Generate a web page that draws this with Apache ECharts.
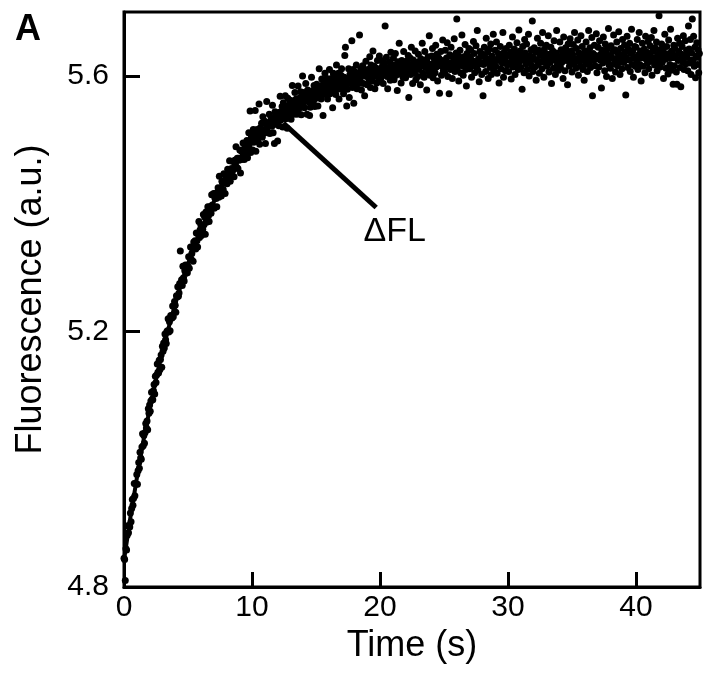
<!DOCTYPE html>
<html>
<head>
<meta charset="utf-8">
<script src="https://cdn.jsdelivr.net/npm/echarts@6/dist/echarts.min.js"></script>
<style>
  html, body { margin: 0; padding: 0; background: #fff; }
  #chart { width: 714px; height: 677px; }
</style>
</head>
<body>
<div id="chart"></div>
<script>
// sampling interval of the trace (s)
var timeStep = 0.05;

// fluorescence readings, 5 s per block
var fl_0_5 = [4.845, 4.843, 4.810, 4.860, 4.858, 4.881, 4.896, 4.885, 4.896, 4.894,
  4.916, 4.902, 4.923, 4.937, 4.928, 4.939, 4.962, 4.943, 4.962, 4.961,
  4.976, 4.961, 4.982, 4.995, 4.986, 5.011, 5.002, 5.000, 5.019, 5.040,
  5.021, 5.037, 5.025, 5.042, 5.056, 5.049, 5.060, 5.046, 5.079, 5.072,
  5.085, 5.075, 5.091, 5.105, 5.094, 5.093, 5.107, 5.117, 5.102, 5.130,
  5.120, 5.132, 5.149, 5.136, 5.135, 5.155, 5.140, 5.156, 5.163, 5.144,
  5.177, 5.169, 5.182, 5.174, 5.196, 5.187, 5.181, 5.200, 5.201, 5.220,
  5.199, 5.215, 5.201, 5.225, 5.221, 5.221, 5.240, 5.223, 5.239, 5.247,
  5.241, 5.230, 5.256, 5.254, 5.270, 5.255, 5.260, 5.275, 5.326, 5.275,
  5.281, 5.272, 5.302, 5.284, 5.279, 5.295, 5.304, 5.291, 5.302, 5.292];
var fl_5_10 = [5.302, 5.317, 5.299, 5.316, 5.332, 5.313, 5.322, 5.330, 5.310, 5.340,
  5.331, 5.342, 5.329, 5.354, 5.342, 5.332, 5.352, 5.372, 5.347, 5.359,
  5.367, 5.350, 5.364, 5.360, 5.383, 5.367, 5.379, 5.352, 5.387, 5.371,
  5.383, 5.395, 5.381, 5.372, 5.395, 5.393, 5.385, 5.414, 5.398, 5.394,
  5.416, 5.393, 5.409, 5.416, 5.408, 5.395, 5.418, 5.425, 5.410, 5.443,
  5.418, 5.424, 5.412, 5.435, 5.432, 5.422, 5.447, 5.433, 5.416, 5.443,
  5.441, 5.431, 5.454, 5.439, 5.452, 5.467, 5.435, 5.450, 5.455, 5.444,
  5.466, 5.453, 5.442, 5.468, 5.462, 5.489, 5.457, 5.471, 5.455, 5.471,
  5.468, 5.484, 5.448, 5.483, 5.469, 5.481, 5.495, 5.476, 5.469, 5.489,
  5.484, 5.476, 5.499, 5.472, 5.493, 5.511, 5.486, 5.545, 5.480, 5.504];
var fl_10_15 = [5.501, 5.484, 5.516, 5.496, 5.508, 5.546, 5.482, 5.505, 5.516, 5.499,
  5.510, 5.556, 5.493, 5.519, 5.510, 5.526, 5.504, 5.536, 5.510, 5.516,
  5.529, 5.494, 5.526, 5.560, 5.519, 5.511, 5.527, 5.540, 5.510, 5.526,
  5.535, 5.521, 5.554, 5.511, 5.534, 5.494, 5.544, 5.529, 5.541, 5.524,
  5.498, 5.538, 5.522, 5.543, 5.568, 5.531, 5.539, 5.552, 5.520, 5.558,
  5.546, 5.539, 5.569, 5.533, 5.553, 5.518, 5.565, 5.548, 5.539, 5.562,
  5.555, 5.532, 5.561, 5.585, 5.548, 5.540, 5.556, 5.574, 5.548, 5.564,
  5.540, 5.558, 5.584, 5.548, 5.565, 5.556, 5.575, 5.539, 5.569, 5.600,
  5.557, 5.574, 5.550, 5.568, 5.588, 5.564, 5.540, 5.578, 5.570, 5.559,
  5.538, 5.551, 5.576, 5.598, 5.565, 5.572, 5.560, 5.585, 5.552, 5.578];
var fl_15_20 = [5.565, 5.587, 5.577, 5.553, 5.584, 5.611, 5.571, 5.577, 5.564, 5.595,
  5.584, 5.538, 5.590, 5.577, 5.604, 5.571, 5.585, 5.596, 5.564, 5.589,
  5.579, 5.610, 5.572, 5.585, 5.596, 5.578, 5.550, 5.604, 5.590, 5.584,
  5.596, 5.571, 5.617, 5.590, 5.579, 5.604, 5.564, 5.594, 5.584, 5.601,
  5.611, 5.579, 5.591, 5.572, 5.598, 5.632, 5.645, 5.584, 5.553, 5.579,
  5.596, 5.611, 5.566, 5.602, 5.593, 5.588, 5.655, 5.582, 5.610, 5.557,
  5.598, 5.606, 5.589, 5.617, 5.580, 5.603, 5.597, 5.588, 5.664, 5.594,
  5.611, 5.578, 5.603, 5.616, 5.588, 5.601, 5.569, 5.607, 5.623, 5.599,
  5.586, 5.610, 5.605, 5.594, 5.630, 5.582, 5.617, 5.608, 5.592, 5.639,
  5.599, 5.615, 5.580, 5.605, 5.612, 5.589, 5.624, 5.602, 5.597, 5.631];
var fl_20_25 = [5.611, 5.596, 5.624, 5.601, 5.616, 5.588, 5.609, 5.620, 5.678, 5.604,
  5.629, 5.599, 5.580, 5.613, 5.608, 5.622, 5.593, 5.637, 5.602, 5.617,
  5.608, 5.628, 5.594, 5.617, 5.635, 5.601, 5.613, 5.577, 5.622, 5.610,
  5.651, 5.603, 5.619, 5.589, 5.624, 5.615, 5.598, 5.638, 5.606, 5.618,
  5.597, 5.623, 5.615, 5.606, 5.632, 5.566, 5.618, 5.628, 5.602, 5.645,
  5.611, 5.588, 5.625, 5.616, 5.604, 5.639, 5.594, 5.621, 5.614, 5.599,
  5.634, 5.610, 5.623, 5.586, 5.627, 5.616, 5.651, 5.604, 5.619, 5.598,
  5.638, 5.613, 5.625, 5.578, 5.621, 5.630, 5.606, 5.663, 5.601, 5.618,
  5.610, 5.631, 5.643, 5.597, 5.619, 5.626, 5.605, 5.648, 5.614, 5.634,
  5.592, 5.623, 5.628, 5.573, 5.616, 5.638, 5.601, 5.624, 5.656, 5.608];
var fl_25_30 = [5.623, 5.605, 5.640, 5.614, 5.628, 5.652, 5.599, 5.619, 5.572, 5.633,
  5.610, 5.645, 5.621, 5.596, 5.630, 5.616, 5.658, 5.607, 5.625, 5.636,
  5.689, 5.613, 5.632, 5.592, 5.623, 5.640, 5.605, 5.628, 5.664, 5.616,
  5.601, 5.630, 5.621, 5.649, 5.610, 5.584, 5.635, 5.625, 5.618, 5.643,
  5.611, 5.629, 5.640, 5.598, 5.624, 5.616, 5.654, 5.635, 5.605, 5.622,
  5.647, 5.613, 5.671, 5.609, 5.627, 5.591, 5.638, 5.619, 5.631, 5.602,
  5.634, 5.569, 5.618, 5.645, 5.629, 5.607, 5.659, 5.621, 5.637, 5.596,
  5.626, 5.642, 5.613, 5.650, 5.602, 5.631, 5.619, 5.665, 5.610, 5.623,
  5.640, 5.615, 5.653, 5.604, 5.627, 5.635, 5.589, 5.624, 5.646, 5.611,
  5.630, 5.620, 5.668, 5.598, 5.637, 5.625, 5.608, 5.643, 5.632, 5.617];
var fl_30_35 = [5.632, 5.607, 5.648, 5.620, 5.637, 5.595, 5.629, 5.661, 5.614, 5.624,
  5.642, 5.602, 5.634, 5.617, 5.652, 5.626, 5.610, 5.672, 5.622, 5.639,
  5.613, 5.631, 5.579, 5.646, 5.626, 5.605, 5.657, 5.636, 5.619, 5.650,
  5.610, 5.629, 5.665, 5.600, 5.632, 5.623, 5.641, 5.616, 5.686, 5.607,
  5.628, 5.644, 5.614, 5.637, 5.593, 5.625, 5.659, 5.618, 5.640, 5.604,
  5.633, 5.651, 5.622, 5.611, 5.668, 5.630, 5.598, 5.642, 5.635, 5.620,
  5.648, 5.615, 5.627, 5.663, 5.606, 5.634, 5.621, 5.645, 5.588, 5.631,
  5.639, 5.612, 5.655, 5.625, 5.602, 5.636, 5.671, 5.617, 5.629, 5.609,
  5.627, 5.653, 5.613, 5.641, 5.621, 5.634, 5.596, 5.661, 5.631, 5.608,
  5.644, 5.624, 5.637, 5.586, 5.650, 5.629, 5.615, 5.658, 5.619, 5.639];
var fl_35_40 = [5.606, 5.634, 5.649, 5.619, 5.668, 5.627, 5.612, 5.643, 5.623, 5.656,
  5.601, 5.636, 5.631, 5.615, 5.663, 5.625, 5.646, 5.610, 5.633, 5.593,
  5.639, 5.618, 5.653, 5.629, 5.607, 5.637, 5.671, 5.621, 5.644, 5.613,
  5.628, 5.660, 5.569, 5.635, 5.624, 5.648, 5.616, 5.632, 5.666, 5.605,
  5.630, 5.645, 5.614, 5.655, 5.625, 5.634, 5.581, 5.640, 5.620, 5.661,
  5.628, 5.608, 5.650, 5.636, 5.599, 5.642, 5.623, 5.674, 5.617, 5.632,
  5.612, 5.647, 5.629, 5.596, 5.638, 5.664, 5.619, 5.641, 5.606, 5.627,
  5.653, 5.616, 5.635, 5.669, 5.622, 5.602, 5.643, 5.631, 5.611, 5.657,
  5.633, 5.621, 5.648, 5.637, 5.570, 5.628, 5.662, 5.613, 5.642, 5.625,
  5.651, 5.607, 5.635, 5.673, 5.618, 5.639, 5.598, 5.630, 5.646, 5.615];
var fl_40_45 = [5.645, 5.624, 5.657, 5.610, 5.633, 5.668, 5.618, 5.639, 5.592, 5.629,
  5.651, 5.615, 5.635, 5.642, 5.605, 5.662, 5.626, 5.637, 5.620, 5.654,
  5.611, 5.632, 5.647, 5.623, 5.660, 5.601, 5.638, 5.628, 5.671, 5.617,
  5.644, 5.625, 5.653, 5.608, 5.634, 5.619, 5.694, 5.640, 5.614, 5.630,
  5.650, 5.621, 5.641, 5.596, 5.636, 5.665, 5.626, 5.612, 5.646, 5.631,
  5.603, 5.656, 5.635, 5.618, 5.673, 5.609, 5.639, 5.629, 5.587, 5.648,
  5.616, 5.643, 5.632, 5.606, 5.587, 5.659, 5.624, 5.638, 5.651, 5.613,
  5.583, 5.634, 5.646, 5.622, 5.663, 5.610, 5.629, 5.655, 5.619, 5.640,
  5.633, 5.608, 5.678, 5.642, 5.620, 5.657, 5.602, 5.636, 5.689, 5.625,
  5.662, 5.615, 5.645, 5.597, 5.631, 5.652, 5.618, 5.641, 5.605, 5.635];

// fitted curve
var fitTime = [0, 0.5, 1, 1.5, 2, 2.5, 3, 3.5, 4, 4.5, 5, 5.5, 6, 6.5, 7, 7.5, 8, 8.5, 9, 9.5,
  10, 11, 12, 13, 14, 15, 16, 17, 18, 19, 20, 22, 24, 26, 28, 30, 33, 36, 40, 45];
var fitValue = [4.842, 4.909, 4.970, 5.027, 5.078, 5.125, 5.168, 5.207, 5.243, 5.276,
  5.306, 5.333, 5.358, 5.381, 5.402, 5.421, 5.439, 5.455, 5.470, 5.483,
  5.495, 5.517, 5.535, 5.550, 5.563, 5.573, 5.582, 5.589, 5.595, 5.600,
  5.605, 5.611, 5.616, 5.619, 5.622, 5.623, 5.624, 5.625, 5.626, 5.627];

// ΔFL pointer (time, fluorescence)
var pointerFrom = [12.45, 5.526];
var pointerTo = [19.7, 5.394];
var pointerText = [21.15, 5.356];

var fontFamily = '"Liberation Sans", Arial, sans-serif';

var trace = [].concat(fl_0_5, fl_5_10, fl_10_15, fl_15_20, fl_20_25,
  fl_25_30, fl_30_35, fl_35_40, fl_40_45);
var points = trace.map(function (v, i) {
  return [+(i * timeStep).toFixed(2), v];
});
var fitLine = fitTime.map(function (t, i) { return [t, fitValue[i]]; });

var chart = echarts.init(document.getElementById('chart'), null, { renderer: 'canvas' });

chart.setOption({
  animation: false,
  backgroundColor: '#fff',
  textStyle: { fontFamily: fontFamily, color: '#000' },
  grid: {
    left: 124, right: 14, top: 12, bottom: 90,
    show: true, borderColor: '#000', borderWidth: 3, backgroundColor: 'transparent'
  },
  xAxis: {
    type: 'value',
    min: 0, max: 45, interval: 10,
    name: 'Time (s)',
    nameLocation: 'middle',
    nameGap: 37,
    nameTextStyle: { fontSize: 36, color: '#000', fontFamily: fontFamily },
    axisLine: { onZero: false, lineStyle: { color: '#000', width: 3 } },
    axisTick: { inside: true, length: 15, lineStyle: { color: '#000', width: 3 } },
    axisLabel: { fontSize: 30, color: '#000', margin: 6, showMaxLabel: false, fontFamily: fontFamily },
    splitLine: { show: false }
  },
  yAxis: {
    type: 'value',
    min: 4.8, max: 5.7, interval: 0.4,
    name: 'Fluorescence (a.u.)',
    nameLocation: 'middle',
    nameGap: 75,
    nameTextStyle: { fontSize: 36, color: '#000', fontFamily: fontFamily },
    axisLine: { onZero: false, lineStyle: { color: '#000', width: 3 } },
    axisTick: { inside: true, length: 16, lineStyle: { color: '#000', width: 3 } },
    axisLabel: {
      fontSize: 30, color: '#000', margin: 15, showMaxLabel: false, fontFamily: fontFamily,
      formatter: function (v) { return v.toFixed(1); }
    },
    splitLine: { show: false }
  },
  graphic: [{
    type: 'text', left: 15, top: 12,
    style: { text: 'A', font: 'bold 36px ' + fontFamily, fill: '#000' }
  }],
  series: [
    {
      type: 'line',
      data: fitLine,
      showSymbol: false,
      lineStyle: { color: '#000', width: 4 },
      z: 2
    },
    {
      type: 'scatter',
      data: points,
      symbolSize: 7,
      itemStyle: { color: '#000', opacity: 1 },
      z: 3
    },
    {
      type: 'line',
      data: [pointerFrom, pointerTo],
      showSymbol: false,
      lineStyle: { color: '#000', width: 5, cap: 'butt' },
      z: 4
    },
    {
      type: 'scatter',
      data: [pointerText],
      symbolSize: 0,
      itemStyle: { opacity: 1 },
      label: {
        show: true, position: 'inside', formatter: 'ΔFL',
        fontSize: 34, color: '#000', fontFamily: fontFamily
      },
      z: 4
    }
  ]
});
</script>
</body>
</html>
